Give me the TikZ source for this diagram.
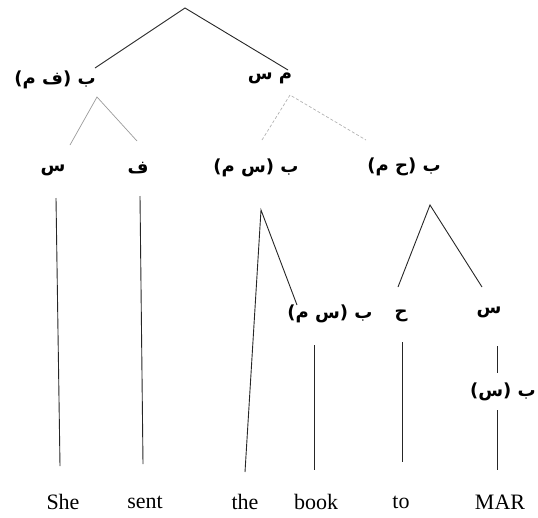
\documentclass[tikz,border=0pt]{standalone}
\usepackage{fontspec}
\TeXXeTstate=1
\setmainfont{Liberation Serif}
\newfontfamily\arabicfont[Script=Arabic]{DejaVu Sans}
\newcommand\ar[1]{{\arabicfont\bfseries\beginR #1\endR}}
\begin{document}
\begin{tikzpicture}[x=1pt,y=-1pt,
  lbl/.style={inner sep=0pt,font=\fontsize{18}{20}\selectfont},
  word/.style={inner sep=0pt,font=\fontsize{22}{24}\selectfont},
  edge/.style={line width=0.9pt,black!85},
  grayedge/.style={line width=0.7pt,black!40},
  fainted/.style={line width=0.7pt,black!30,densely dashed}]
\useasboundingbox (0,0) rectangle (538,517);
% labels
\node[lbl] (bmf) at (55,80) {\ar{ب (ف م)}};
\node[lbl] (ms) at (270,78) {\ar{م س}};
\node[lbl] (s1) at (53,170) {\ar{س}};
\node[lbl] (f1) at (138,168) {\ar{ف}};
\node[lbl] (bms) at (256,168) {\ar{ب (س م)}};
\node[lbl] (bmh) at (404,167) {\ar{ب (ح م)}};
\node[lbl] (bms2) at (330,314) {\ar{ب (س م)}};
\node[lbl] (h1) at (401,316) {\ar{ح}};
\node[lbl] (s2) at (489,312) {\ar{س}};
\node[lbl] (bs) at (503,392) {\ar{ب (س)}};
% words
\node[word] (she) at (63,502) {She};
\node[word] (sent) at (145,502) {sent};
\node[word] (the) at (245,502) {the};
\node[word] (book) at (316,502) {book};
\node[word] (to) at (401,502) {to};
\node[word] (mar) at (500,502) {MAR};
% coordinates
\coordinate (root) at (185,8);
\coordinate (bmfE) at (95,68);
\coordinate (msE) at (288,70);
\coordinate (a1) at (97,97);
\coordinate (s1E) at (70,145);
\coordinate (f1E) at (137,141);
\coordinate (a2) at (290,95);
\coordinate (bmsE) at (262,140);
\coordinate (bmhE) at (366,140);
\coordinate (sheT) at (56,198);
\coordinate (sheB) at (60,466);
\coordinate (sentT) at (140,196);
\coordinate (sentB) at (143,464);
\coordinate (a3) at (261,210);
\coordinate (theB) at (245,472);
\coordinate (bms2E) at (297,305);
\coordinate (bookT) at (314,345);
\coordinate (bookB) at (314,470);
\coordinate (a4) at (430,205);
\coordinate (h1E) at (398,287);
\coordinate (s2E) at (482,287);
\coordinate (toT) at (402,342);
\coordinate (toB) at (402,462);
\coordinate (s2B) at (497,346);
\coordinate (bsT) at (497,373);
\coordinate (bsB) at (497,410);
\coordinate (marB) at (497,470);
% edges
\draw[edge] (bmfE) -- (root) -- (msE);
\draw[grayedge] (s1E) -- (a1) -- (f1E);
\draw[fainted] (bmsE) -- (a2) -- (bmhE);
\draw[edge] (sheT) -- (sheB);
\draw[edge] (sentT) -- (sentB);
\draw[edge] (theB) -- (a3) -- (bms2E);
\draw[edge] (bookT) -- (bookB);
\draw[edge] (h1E) -- (a4) -- (s2E);
\draw[edge] (toT) -- (toB);
\draw[edge] (s2B) -- (bsT);
\draw[edge] (bsB) -- (marB);
\end{tikzpicture}
\end{document}
